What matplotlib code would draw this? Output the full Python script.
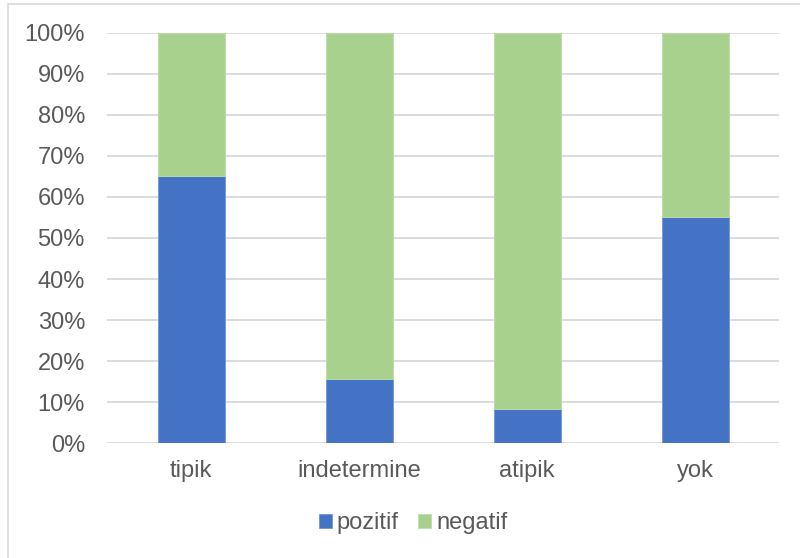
import numpy as np
import matplotlib.pyplot as plt
from matplotlib.patches import Rectangle

# Datos del grafico (porcentajes)
kategoriler = ['tipik', 'indetermine', 'atipik', 'yok']
pozitif = [65.0, 15.6, 8.3, 55.0]
negatif = [100 - p for p in pozitif]

plt.rcParams['font.family'] = ['Liberation Sans', 'DejaVu Sans']
renk_metin = '#595959'
tam = 17

fig = plt.figure(figsize=(8, 5.58), dpi=100)
ax = fig.add_axes([0.134, 0.206, 0.840, 0.735])

x = np.arange(len(kategoriler))
ax.bar(x, pozitif, width=0.4, color='#4472C4', edgecolor='#6F95D8', linewidth=0.6,
       label='pozitif', zorder=3)
ax.bar(x, negatif, width=0.4, bottom=pozitif, color='#A9D18E', edgecolor='#BEDDAA',
       linewidth=0.6, label='negatif', zorder=3)

ax.set_xlim(-0.5, len(kategoriler) - 0.5)
ax.set_ylim(0, 100)
ax.set_yticks(np.arange(0, 101, 10))
ax.set_yticklabels([f'{v}%' for v in range(0, 101, 10)])
ax.set_xticks(x)
ax.set_xticklabels(kategoriler)

ax.grid(axis='y', color='#D9D9D9', linewidth=1.3, zorder=0)
for s in ax.spines.values():
    s.set_visible(False)
ax.tick_params(axis='both', length=0, labelsize=tam, colors=renk_metin)
ax.tick_params(axis='x', pad=12)
ax.tick_params(axis='y', pad=16)

leg = fig.legend(*ax.get_legend_handles_labels(), loc='center',
                 bbox_to_anchor=(413 / 800, 1 - 523 / 558), ncol=2, frameon=False,
                 fontsize=tam, handlelength=0.55, handleheight=0.55, handletextpad=0.2,
                 columnspacing=0.85)
for t in leg.get_texts():
    t.set_color(renk_metin)

# borde del area del grafico
fig.patches.append(Rectangle((8 / 800, -0.1), 1.0, 1 - 4 / 558 + 0.1,
                             transform=fig.transFigure, fill=False,
                             edgecolor='#D9D9D9', linewidth=1.2))

fig.savefig('out.png', dpi=100)
